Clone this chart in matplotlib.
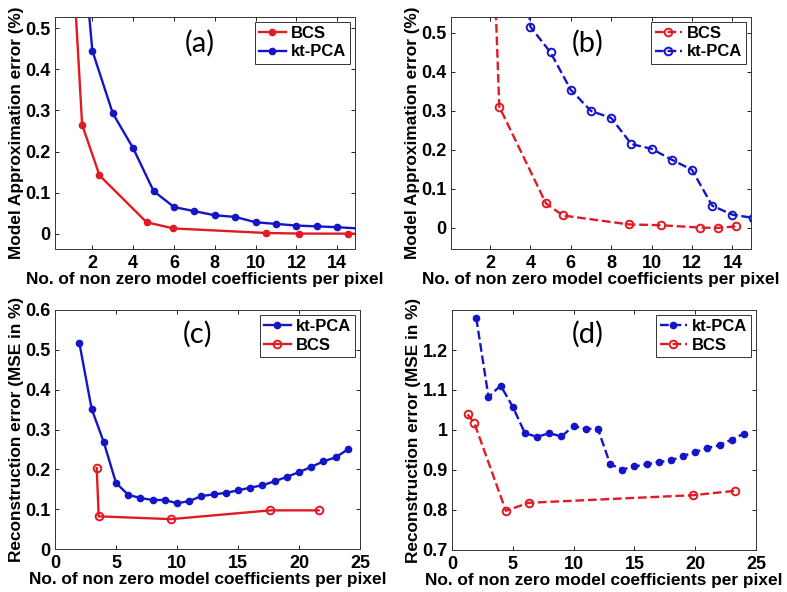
import matplotlib
matplotlib.use("Agg")
import matplotlib.pyplot as plt

plt.rcParams['font.family'] = ['Liberation Sans', 'DejaVu Sans']
plt.rcParams['font.weight'] = 'bold'
plt.rcParams['axes.labelweight'] = 'bold'

RED = '#e01b24'
BLUE = '#1515c8'

# ---------- panel (a) ----------
a_bcs_x = [1.0, 1.5, 2.35, 4.66, 5.97, 10.5, 12.15, 14.55, 16.0]
a_bcs_y = [0.70, 0.265, 0.142, 0.028, 0.013, 0.002, 0.0005, 0.0003, 0.0]
a_pca_x = [1, 2, 3, 4, 5, 6, 7, 8, 9, 10, 11, 12, 13, 14, 15]
a_pca_y = [1.0, 0.445, 0.293, 0.208, 0.104, 0.065, 0.055, 0.045, 0.041,
           0.028, 0.024, 0.020, 0.018, 0.016, 0.013]

# ---------- panel (b) ----------
b_bcs_x = [2.0, 2.46, 4.77, 5.61, 8.88, 10.46, 12.41, 13.27, 14.16]
b_bcs_y = [0.97, 0.311, 0.063, 0.032, 0.009, 0.007, 0.001, 0.0, 0.004]
b_pca_x = [3, 4, 5, 6, 7, 8, 9, 10, 11, 12, 13, 14, 15]
b_pca_y = [1.1, 0.516, 0.450, 0.354, 0.300, 0.282, 0.215, 0.203, 0.175,
           0.149, 0.057, 0.034, 0.026]

# ---------- panel (c) ----------
c_pca_x = list(range(2, 25))
c_pca_y = [0.517, 0.352, 0.268, 0.166, 0.136, 0.128, 0.123, 0.123, 0.115,
           0.120, 0.133, 0.137, 0.141, 0.147, 0.154, 0.160, 0.170, 0.181,
           0.193, 0.206, 0.220, 0.230, 0.250]
c_bcs_x = [3.42, 3.58, 9.5, 17.65, 21.6]
c_bcs_y = [0.203, 0.082, 0.075, 0.097, 0.097]

# ---------- panel (d) ----------
d_pca_x = list(range(2, 25))
d_pca_y = [1.279, 1.083, 1.111, 1.058, 0.992, 0.983, 0.992, 0.984, 1.010,
           1.003, 1.003, 0.915, 0.901, 0.909, 0.914, 0.920, 0.924, 0.935,
           0.945, 0.955, 0.962, 0.976, 0.991]
d_bcs_x = [1.28, 1.83, 4.43, 6.3, 19.8, 23.3]
d_bcs_y = [1.039, 1.018, 0.798, 0.818, 0.837, 0.848]

W, H = 787, 592
fig = plt.figure(figsize=(W / 100, H / 100), dpi=100)


def make_ax(l, r, t, b):
    return fig.add_axes([l / W, 1 - b / H, (r - l) / W, (b - t) / H])


TICK_FS = 13
LAB_FS = 12.4
LEG_FS = 12
PAN_FS = 21


def style(ax):
    ax.tick_params(direction='in', top=True, right=True, labelsize=TICK_FS,
                   length=3, width=0.6)
    ax.tick_params(axis='x', pad=4)
    ax.tick_params(axis='y', pad=3)
    for s in ax.spines.values():
        s.set_linewidth(0.7)
        s.set_color('#333333')
    for lab in ax.get_xticklabels() + ax.get_yticklabels():
        lab.set_fontweight('bold')


XL = 'No. of non zero model coefficients per pixel'

ax_a = make_ax(55, 355, 17, 249)
ax_b = make_ax(451, 751, 17, 249)
ax_c = make_ax(55, 360, 310, 549)
ax_d = make_ax(452, 756, 310, 550)

# (a)
ax_a.plot(a_bcs_x, a_bcs_y, '-o', color=RED, lw=1.7, ms=4.5, label='BCS')
ax_a.plot(a_pca_x, a_pca_y, '-o', color=BLUE, lw=1.7, ms=4.5, label='kt-PCA')
ax_a.set_xlim(0.17, 14.87)
ax_a.set_ylim(-0.037, 0.527)
ax_a.set_xticks([2, 4, 6, 8, 10, 12, 14])
ax_a.set_yticks([0, 0.1, 0.2, 0.3, 0.4, 0.5])
ax_a.set_yticklabels(['0', '0.1', '0.2', '0.3', '0.4', '0.5'])
ax_a.set_ylabel('Model Approximation error (%)', fontsize=LAB_FS, labelpad=1)
ax_a.set_xlabel(XL, fontsize=LAB_FS, labelpad=0)
ax_a.text(0.483, 0.885, '(a)', transform=ax_a.transAxes, fontsize=PAN_FS,
          family='Lato', fontweight='normal', ha='center', va='center')

# (b)
ax_b.plot(b_bcs_x, b_bcs_y, '--o', color=RED, lw=1.7, ms=5.5, mfc='none',
          mew=1.4, label='BCS')
ax_b.plot(b_pca_x, b_pca_y, '--o', color=BLUE, lw=1.7, ms=5.5, mfc='none',
          mew=1.4, label='kt-PCA')
ax_b.set_xlim(0.07, 14.92)
ax_b.set_ylim(-0.054, 0.541)
ax_b.set_xticks([2, 4, 6, 8, 10, 12, 14])
ax_b.set_yticks([0, 0.1, 0.2, 0.3, 0.4, 0.5])
ax_b.set_yticklabels(['0', '0.1', '0.2', '0.3', '0.4', '0.5'])
ax_b.set_ylabel('Model Approximation error (%)', fontsize=LAB_FS, labelpad=1)
ax_b.set_xlabel(XL, fontsize=LAB_FS, labelpad=0)
ax_b.text(0.457, 0.885, '(b)', transform=ax_b.transAxes, fontsize=PAN_FS,
          family='Lato', fontweight='normal', ha='center', va='center')

# (c)
ax_c.plot(c_pca_x, c_pca_y, '-o', color=BLUE, lw=1.7, ms=4.5, label='kt-PCA')
ax_c.plot(c_bcs_x, c_bcs_y, '-o', color=RED, lw=1.7, ms=5.5, mfc='none',
          mew=1.4, label='BCS')
ax_c.set_xlim(0, 25)
ax_c.set_ylim(0, 0.6)
ax_c.set_xticks([0, 5, 10, 15, 20, 25])
ax_c.set_yticks([0, 0.1, 0.2, 0.3, 0.4, 0.5, 0.6])
ax_c.set_yticklabels(['0', '0.1', '0.2', '0.3', '0.4', '0.5', '0.6'])
ax_c.set_ylabel('Reconstruction error (MSE in %)', fontsize=LAB_FS, labelpad=1)
ax_c.set_xlabel(XL, fontsize=LAB_FS, labelpad=0)
ax_c.text(0.466, 0.9, '(c)', transform=ax_c.transAxes, fontsize=PAN_FS,
          family='Lato', fontweight='normal', ha='center', va='center')

# (d)
ax_d.plot(d_pca_x, d_pca_y, '--o', color=BLUE, lw=1.7, ms=4.5, label='kt-PCA')
ax_d.plot(d_bcs_x, d_bcs_y, '--o', color=RED, lw=1.7, ms=5.5, mfc='none',
          mew=1.4, label='BCS')
ax_d.set_xlim(0, 25)
ax_d.set_ylim(0.7, 1.3)
ax_d.set_xticks([0, 5, 10, 15, 20, 25])
ax_d.set_yticks([0.7, 0.8, 0.9, 1.0, 1.1, 1.2])
ax_d.set_yticklabels(['0.7', '0.8', '0.9', '1', '1.1', '1.2'])
ax_d.set_ylabel('Reconstruction error (MSE in %)', fontsize=LAB_FS, labelpad=1)
ax_d.set_xlabel(XL, fontsize=LAB_FS, labelpad=0)
ax_d.text(0.445, 0.9, '(d)', transform=ax_d.transAxes, fontsize=PAN_FS,
          family='Lato', fontweight='normal', ha='center', va='center')

for ax in (ax_a, ax_b, ax_c, ax_d):
    style(ax)
    leg = ax.legend(loc='upper right', frameon=True,
                    fancybox=False, edgecolor='#333333', framealpha=1,
                    handlelength=1.6, handletextpad=0.3, borderpad=0.25,
                    labelspacing=0.2, borderaxespad=0.3,
                    prop={'weight': 'bold', 'size': LEG_FS})
    leg.get_frame().set_linewidth(0.7)

fig.savefig('out.png', dpi=100)
